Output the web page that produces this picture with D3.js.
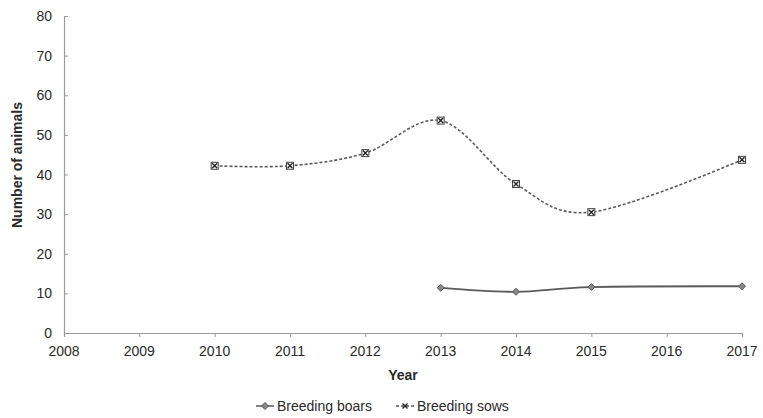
<!DOCTYPE html>
<html><head><meta charset="utf-8">
<script src="https://cdn.jsdelivr.net/npm/d3@7"></script>
<style>
body{margin:0;background:#fff;}
text{font-family:"Liberation Sans Narrow","Arial Narrow","Liberation Sans",Arial,sans-serif;fill:#2a2a2a;}
</style></head>
<body><svg id="c" width="763" height="418"></svg>
<script>
const years = [2008,2009,2010,2011,2012,2013,2014,2015,2016,2017];
const yTicks = [0,10,20,30,40,50,60,70,80];
const sowYears = [2010,2011,2012,2013,2014,2015,2017];
const sowValues = [42.2,42.2,45.4,53.6,37.6,30.5,43.7];
const boarYears = [2013,2014,2015,2017];
const boarValues = [11.4,10.4,11.6,11.8];
const seriesNames = ["Breeding boars","Breeding sows"];

const svg = d3.select("#c");
const x = d3.scaleLinear().domain([2008,2017]).range([64,742]);
const y = d3.scaleLinear().domain([0,80]).range([333,16]);
const axisCol = "#9a9a9a";

// y axis
const ya = svg.append("g").attr("transform","translate(64,0)")
  .call(d3.axisRight(y).tickValues(yTicks).tickSize(4).tickFormat(""));
ya.select(".domain").attr("stroke",axisCol).attr("stroke-width",1.2);
ya.selectAll(".tick line").attr("stroke",axisCol);
svg.append("g").selectAll("text").data(yTicks).join("text")
  .attr("x",52).attr("y",d=>y(d)+5).attr("text-anchor","end")
  .attr("font-size",14).text(d=>d);

// x axis
const xa = svg.append("g").attr("transform","translate(0,333)")
  .call(d3.axisBottom(x).tickValues(years).tickSize(4).tickFormat(""));
xa.select(".domain").attr("stroke",axisCol).attr("stroke-width",1.2);
xa.selectAll(".tick line").attr("stroke",axisCol);
svg.append("g").selectAll("text").data(years).join("text")
  .attr("x",d=>x(d)).attr("y",356).attr("text-anchor","middle")
  .attr("font-size",14).text(d=>d);

svg.append("text").attr("x",403).attr("y",380).attr("text-anchor","middle")
  .attr("font-size",14).attr("font-weight","bold").text("Year");
svg.append("text").attr("transform","translate(22,165) rotate(-90)")
  .attr("text-anchor","middle").attr("font-size",14).attr("font-weight","bold")
  .text("Number of animals");

const line = d3.line().curve(d3.curveCatmullRom.alpha(0)).x(d=>x(d[0])).y(d=>y(d[1]));
const sows = sowYears.map((d,i)=>[d,sowValues[i]]);
const boars = boarYears.map((d,i)=>[d,boarValues[i]]);
const lc = "#5a5a5a";

svg.append("path").attr("d",line(sows)).attr("fill","none").attr("stroke",lc)
  .attr("stroke-width",1.6).attr("stroke-dasharray","3,2");
svg.append("path").attr("d",line(boars)).attr("fill","none").attr("stroke",lc)
  .attr("stroke-width",1.8);

function sowMarker(g,cx,cy){
  g.append("rect").attr("x",cx-3.5).attr("y",cy-3.5).attr("width",7).attr("height",7)
   .attr("fill","#fff").attr("stroke","#444").attr("stroke-width",1);
  g.append("path").attr("d",`M${cx-2.5},${cy-2.5}L${cx+2.5},${cy+2.5}M${cx+2.5},${cy-2.5}L${cx-2.5},${cy+2.5}`)
   .attr("stroke","#222").attr("stroke-width",1.4);
}
function boarMarker(g,cx,cy){
  g.append("path").attr("d",`M${cx},${cy-3.5}L${cx+3.5},${cy}L${cx},${cy+3.5}L${cx-3.5},${cy}Z`)
   .attr("fill","#888").attr("stroke","#555").attr("stroke-width",1);
}
const mg = svg.append("g");
sows.forEach(d=>sowMarker(mg,x(d[0]),y(d[1])));
boars.forEach(d=>boarMarker(mg,x(d[0]),y(d[1])));

// legend
const lg = svg.append("g");
lg.append("line").attr("x1",256).attr("x2",274).attr("y1",406).attr("y2",406).attr("stroke",lc).attr("stroke-width",1.5);
boarMarker(lg,265,406);
lg.append("text").attr("x",277).attr("y",411).attr("font-size",14).text(seriesNames[0]);
lg.append("line").attr("x1",396).attr("x2",414).attr("y1",406).attr("y2",406).attr("stroke",lc).attr("stroke-width",1.5).attr("stroke-dasharray","3,2");
lg.append("path").attr("d","M402.5,403.5L407.5,408.5M407.5,403.5L402.5,408.5").attr("stroke","#222").attr("stroke-width",1.3);
lg.append("text").attr("x",417).attr("y",411).attr("font-size",14).text(seriesNames[1]);
</script></body></html>
